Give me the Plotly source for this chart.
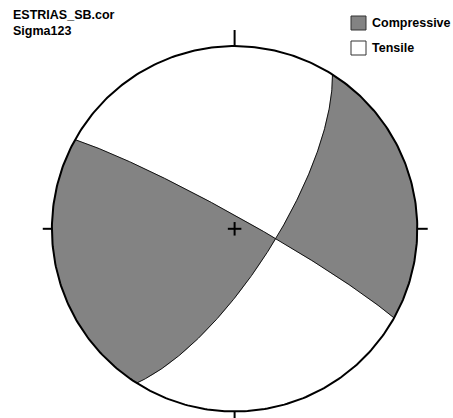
import numpy as np
import plotly.graph_objects as go

# Nodal planes (strike, right-hand rule, and dip in degrees)
plane_names = ["Plane A", "Plane B"]
strikes = [299.2, 32.4]
dips = [84.7, 72.1]

title_lines = ["ESTRIAS_SB.cor", "Sigma123"]
legend_labels = ["Compressive", "Tensile"]
legend_colors = ["#838383", "#ffffff"]

W, H = 453, 418
CX, CY, R = 234.6, 228.8, 182.7  # pixel centre and radius of the net


def plane_vectors(strike, dip):
    s = np.radians(strike)
    d = np.radians(dip)
    dd = s + np.pi / 2
    sv = np.array([np.sin(s), np.cos(s), 0.0])
    dv = np.array([np.cos(d) * np.sin(dd), np.cos(d) * np.cos(dd), np.sin(d)])
    return sv, dv


def project(v):
    """Lower-hemisphere equal-area (Schmidt) projection of (E, N, Down) vectors."""
    v = v / np.linalg.norm(v, axis=0)
    plunge = np.arcsin(np.clip(v[2], -1, 1))
    trend = np.arctan2(v[0], v[1])
    r = np.sqrt(2) * np.sin((np.pi / 2 - plunge) / 2)
    return r * np.sin(trend), r * np.cos(trend)


def plane_arc(i, t0, t1, n=120):
    sv, dv = plane_vectors(strikes[i], dips[i])
    t = np.linspace(t0, t1, n)
    v = np.outer(sv, np.cos(t)) + np.outer(dv, np.sin(t))
    return project(v)


def primitive_arc(az0, az1, n=120):
    a = np.radians(np.linspace(az0, az1, n))
    return np.sin(a), np.cos(a)


# Intersection of the two planes (null axis), pointing downward
vecs = [plane_vectors(s, d) for s, d in zip(strikes, dips)]
poles = [np.cross(sv, dv) for sv, dv in vecs]
line = np.cross(poles[0], poles[1])
if line[2] < 0:
    line = -line
t_int = [np.arctan2(line @ dv, line @ sv) for sv, dv in vecs]

# Compressive quadrants
xa1, ya1 = plane_arc(0, 0, t_int[0])
xb1, yb1 = plane_arc(1, t_int[1], np.pi)
xc1, yc1 = primitive_arc((strikes[1] + 180) % 360, strikes[0])
quad_w = (np.concatenate([xa1, xb1, xc1]), np.concatenate([ya1, yb1, yc1]))

xa2, ya2 = plane_arc(1, 0, t_int[1])
xb2, yb2 = plane_arc(0, t_int[0], np.pi)
xc2, yc2 = primitive_arc((strikes[0] + 180) % 360, strikes[1])
quad_e = (np.concatenate([xa2, xb2, xc2]), np.concatenate([ya2, yb2, yc2]))

fig = go.Figure()

for qx, qy in (quad_w, quad_e):
    fig.add_trace(go.Scatter(x=qx, y=qy, mode="lines", fill="toself",
                             fillcolor=legend_colors[0],
                             line=dict(width=0.5, color=legend_colors[0]),
                             hoverinfo="skip", showlegend=False))

# Nodal plane traces
for i, name in enumerate(plane_names):
    px, py = plane_arc(i, 0, np.pi, 240)
    fig.add_trace(go.Scatter(x=px, y=py, mode="lines", name=name,
                             line=dict(width=1, color="#111111"),
                             showlegend=False))

# Primitive circle
cx_, cy_ = primitive_arc(0, 360, 400)
fig.add_trace(go.Scatter(x=cx_, y=cy_, mode="lines",
                         line=dict(width=2, color="#000000"),
                         hoverinfo="skip", showlegend=False))

# Cardinal ticks and centre cross
tick_len = {0: 0.088, 90: 0.057, 180: 0.06, 270: 0.05}
tx, ty = [], []
for az, ln in tick_len.items():
    a = np.radians(az)
    tx += [np.sin(a), np.sin(a) * (1 + ln), None]
    ty += [np.cos(a), np.cos(a) * (1 + ln), None]
c = 0.037
tx += [-c, c, None, 0, 0]
ty += [0, 0, None, -c, c]
fig.add_trace(go.Scatter(x=tx, y=ty, mode="lines",
                         line=dict(width=2, color="#000000"),
                         hoverinfo="skip", showlegend=False))


def px_x(p):
    return p / W


def px_y(p):
    return 1 - p / H


font = dict(family="Arial, Liberation Sans, sans-serif", size=12.5, color="#000000")
annotations = []
for k, txt in enumerate(title_lines):
    annotations.append(dict(x=px_x(12), y=px_y(15.5 + 15.2 * k), xref="paper", yref="paper",
                            text="<b>%s</b>" % txt, showarrow=False, xanchor="left",
                            yanchor="middle", font=font, borderpad=0))

shapes = []
box_tops = [16, 41]
for k, lab in enumerate(legend_labels):
    top = box_tops[k]
    shapes.append(dict(type="rect", xref="paper", yref="paper",
                       x0=px_x(351), x1=px_x(366), y0=px_y(top), y1=px_y(top + 14),
                       fillcolor=legend_colors[k], line=dict(color="#333333", width=1)))
    annotations.append(dict(x=px_x(371), y=px_y(top + 7), xref="paper", yref="paper",
                            text="<b>%s</b>" % lab, showarrow=False, xanchor="left",
                            yanchor="middle", font=font, borderpad=0))

fig.update_layout(
    width=W, height=H, autosize=False,
    margin=dict(l=0, r=0, t=0, b=0),
    paper_bgcolor="#ffffff", plot_bgcolor="#ffffff",
    xaxis=dict(range=[-CX / R, (W - CX) / R], visible=False, fixedrange=True),
    yaxis=dict(range=[-(H - CY) / R, CY / R], visible=False, fixedrange=True),
    annotations=annotations, shapes=shapes,
    showlegend=False,
)

fig.write_html("out.html")
